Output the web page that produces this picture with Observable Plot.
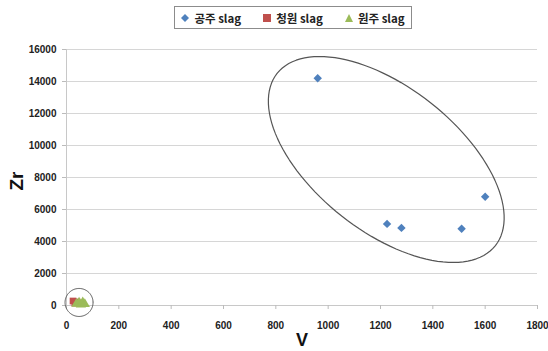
<!DOCTYPE html>
<html><head><meta charset="utf-8">
<script src="https://cdn.jsdelivr.net/npm/d3@7"></script>
<script src="https://cdn.jsdelivr.net/npm/@observablehq/plot@0.6"></script>
<style>
body{margin:0;background:#fff;font-family:"Noto Sans CJK KR","Noto Sans",sans-serif;}
#wrap{width:548px;height:351px;position:relative;overflow:hidden;}
#legend{position:absolute;left:174px;top:6px;width:238px;height:23px;border:1px solid #8c8c8c;box-sizing:border-box;display:flex;align-items:center;justify-content:center;gap:22px;font-size:11.5px;font-weight:bold;color:#222;}
#legend span{display:flex;align-items:center;gap:5px;}
#chart{position:absolute;left:0;top:35px;}
#chart svg{overflow:visible;}
</style></head>
<body><div id="wrap"><div id="legend"></div><div id="chart"></div></div>
<script>
const series = ["공주 slag","청원 slag","원주 slag"];
const colors = ["#4F81BD","#C0504D","#9BBB59"];
const symbols = ["diamond2","square","triangle"];
const gongjuV = [960,1225,1280,1510,1600];
const gongjuZr = [14200,5100,4850,4800,6800];
const cheongwonV = [25,32,40];
const cheongwonZr = [280,150,220];
const wonjuV = [38,48,55,62,70];
const wonjuZr = [100,180,60,200,90];
const xTicks = [0,200,400,600,800,1000,1200,1400,1600,1800];
const yTicks = [0,2000,4000,6000,8000,10000,12000,14000,16000];

const W=548,H=316,mL=66,mR=11,mT=14,mB=46;
const xPerPx = 1800/(W-mL-mR), yPerPx = 16000/(H-mT-mB);

const pts = [];
gongjuV.forEach((v,i)=>pts.push({V:v,Zr:gongjuZr[i],s:series[0]}));
cheongwonV.forEach((v,i)=>pts.push({V:v,Zr:cheongwonZr[i],s:series[1]}));
wonjuV.forEach((v,i)=>pts.push({V:v,Zr:wonjuZr[i],s:series[2]}));

// annotation ellipses (center in data units, semi-axes in px, rotation in degrees)
function ellipse(cx,cy,a,b,deg){
  const th=deg*Math.PI/180, out=[];
  for(let k=0;k<120;k++){const t=k/120*2*Math.PI;
    const dx=a*Math.cos(th)*Math.cos(t)-b*Math.sin(th)*Math.sin(t);
    const dy=a*Math.sin(th)*Math.cos(t)+b*Math.cos(th)*Math.sin(t);
    out.push({x:cx+dx*xPerPx,y:cy-dy*yPerPx});}
  return out;
}
const bigEll = ellipse(1222,9125,139,72,38.25);
const smallEll = ellipse(48,190,14,14,0);

// legend
const leg=document.getElementById("legend");
const shapes=[
 '<svg width="8" height="8"><path d="M4 0L8 4L4 8L0 4Z" fill="'+colors[0]+'"/></svg>',
 '<svg width="8" height="8"><rect width="8" height="8" fill="'+colors[1]+'"/></svg>',
 '<svg width="8" height="8"><path d="M4 0L8 8L0 8Z" fill="'+colors[2]+'"/></svg>'];
series.forEach((s,i)=>{const e=document.createElement("span");e.innerHTML=shapes[i]+"<span>"+s+"</span>";leg.appendChild(e);});

const chart = Plot.plot({
  width:W,height:H,marginLeft:mL,marginRight:mR,marginTop:mT,marginBottom:mB,
  style:{fontFamily:'"Noto Sans CJK KR","Noto Sans",sans-serif',fontSize:"10px",fontWeight:"bold",color:"#222",background:"#fff",overflow:"visible"},
  x:{domain:[0,1800],label:null},
  y:{domain:[0,16000],label:null},
  color:{domain:series,range:colors},
  symbol:{domain:series,range:symbols},
  marks:[
    Plot.ruleY(yTicks.slice(1),{stroke:"#d6d6d6",strokeWidth:1}),
    Plot.ruleX([0],{stroke:"#c8c8c8"}),
    Plot.ruleY([0],{stroke:"#c8c8c8"}),
    Plot.axisX({ticks:xTicks,tickSize:4,tickPadding:12,stroke:"#bbb",tickFormat:d=>String(d),fill:"#222",fontFamily:'"Liberation Sans",Arial,sans-serif'}),
    Plot.axisY({ticks:yTicks,tickSize:4,tickPadding:6,stroke:"#bbb",tickFormat:d=>String(d),fill:"#222",fontFamily:'"Liberation Sans",Arial,sans-serif'}),
    Plot.line(bigEll,{x:"x",y:"y",curve:"linear-closed",stroke:"#555",strokeWidth:1.2}),
    Plot.line(smallEll,{x:"x",y:"y",curve:"linear-closed",stroke:"#555",strokeWidth:1}),
    Plot.dot(pts,{x:"V",y:"Zr",fill:"s",symbol:"s",r:3.8,stroke:"none"}),
    Plot.text(["Zr"],{frameAnchor:"left",dx:-50,dy:13,rotate:-90,fontSize:19,fontWeight:"bold",fill:"#111",fontFamily:'"Liberation Sans",Arial,sans-serif'}),
    Plot.text(["V"],{frameAnchor:"bottom",dy:40,fontSize:18,fontWeight:"bold",fill:"#111",fontFamily:'"Liberation Sans",Arial,sans-serif'})
  ]
});
document.getElementById("chart").appendChild(chart);
</script></body></html>
